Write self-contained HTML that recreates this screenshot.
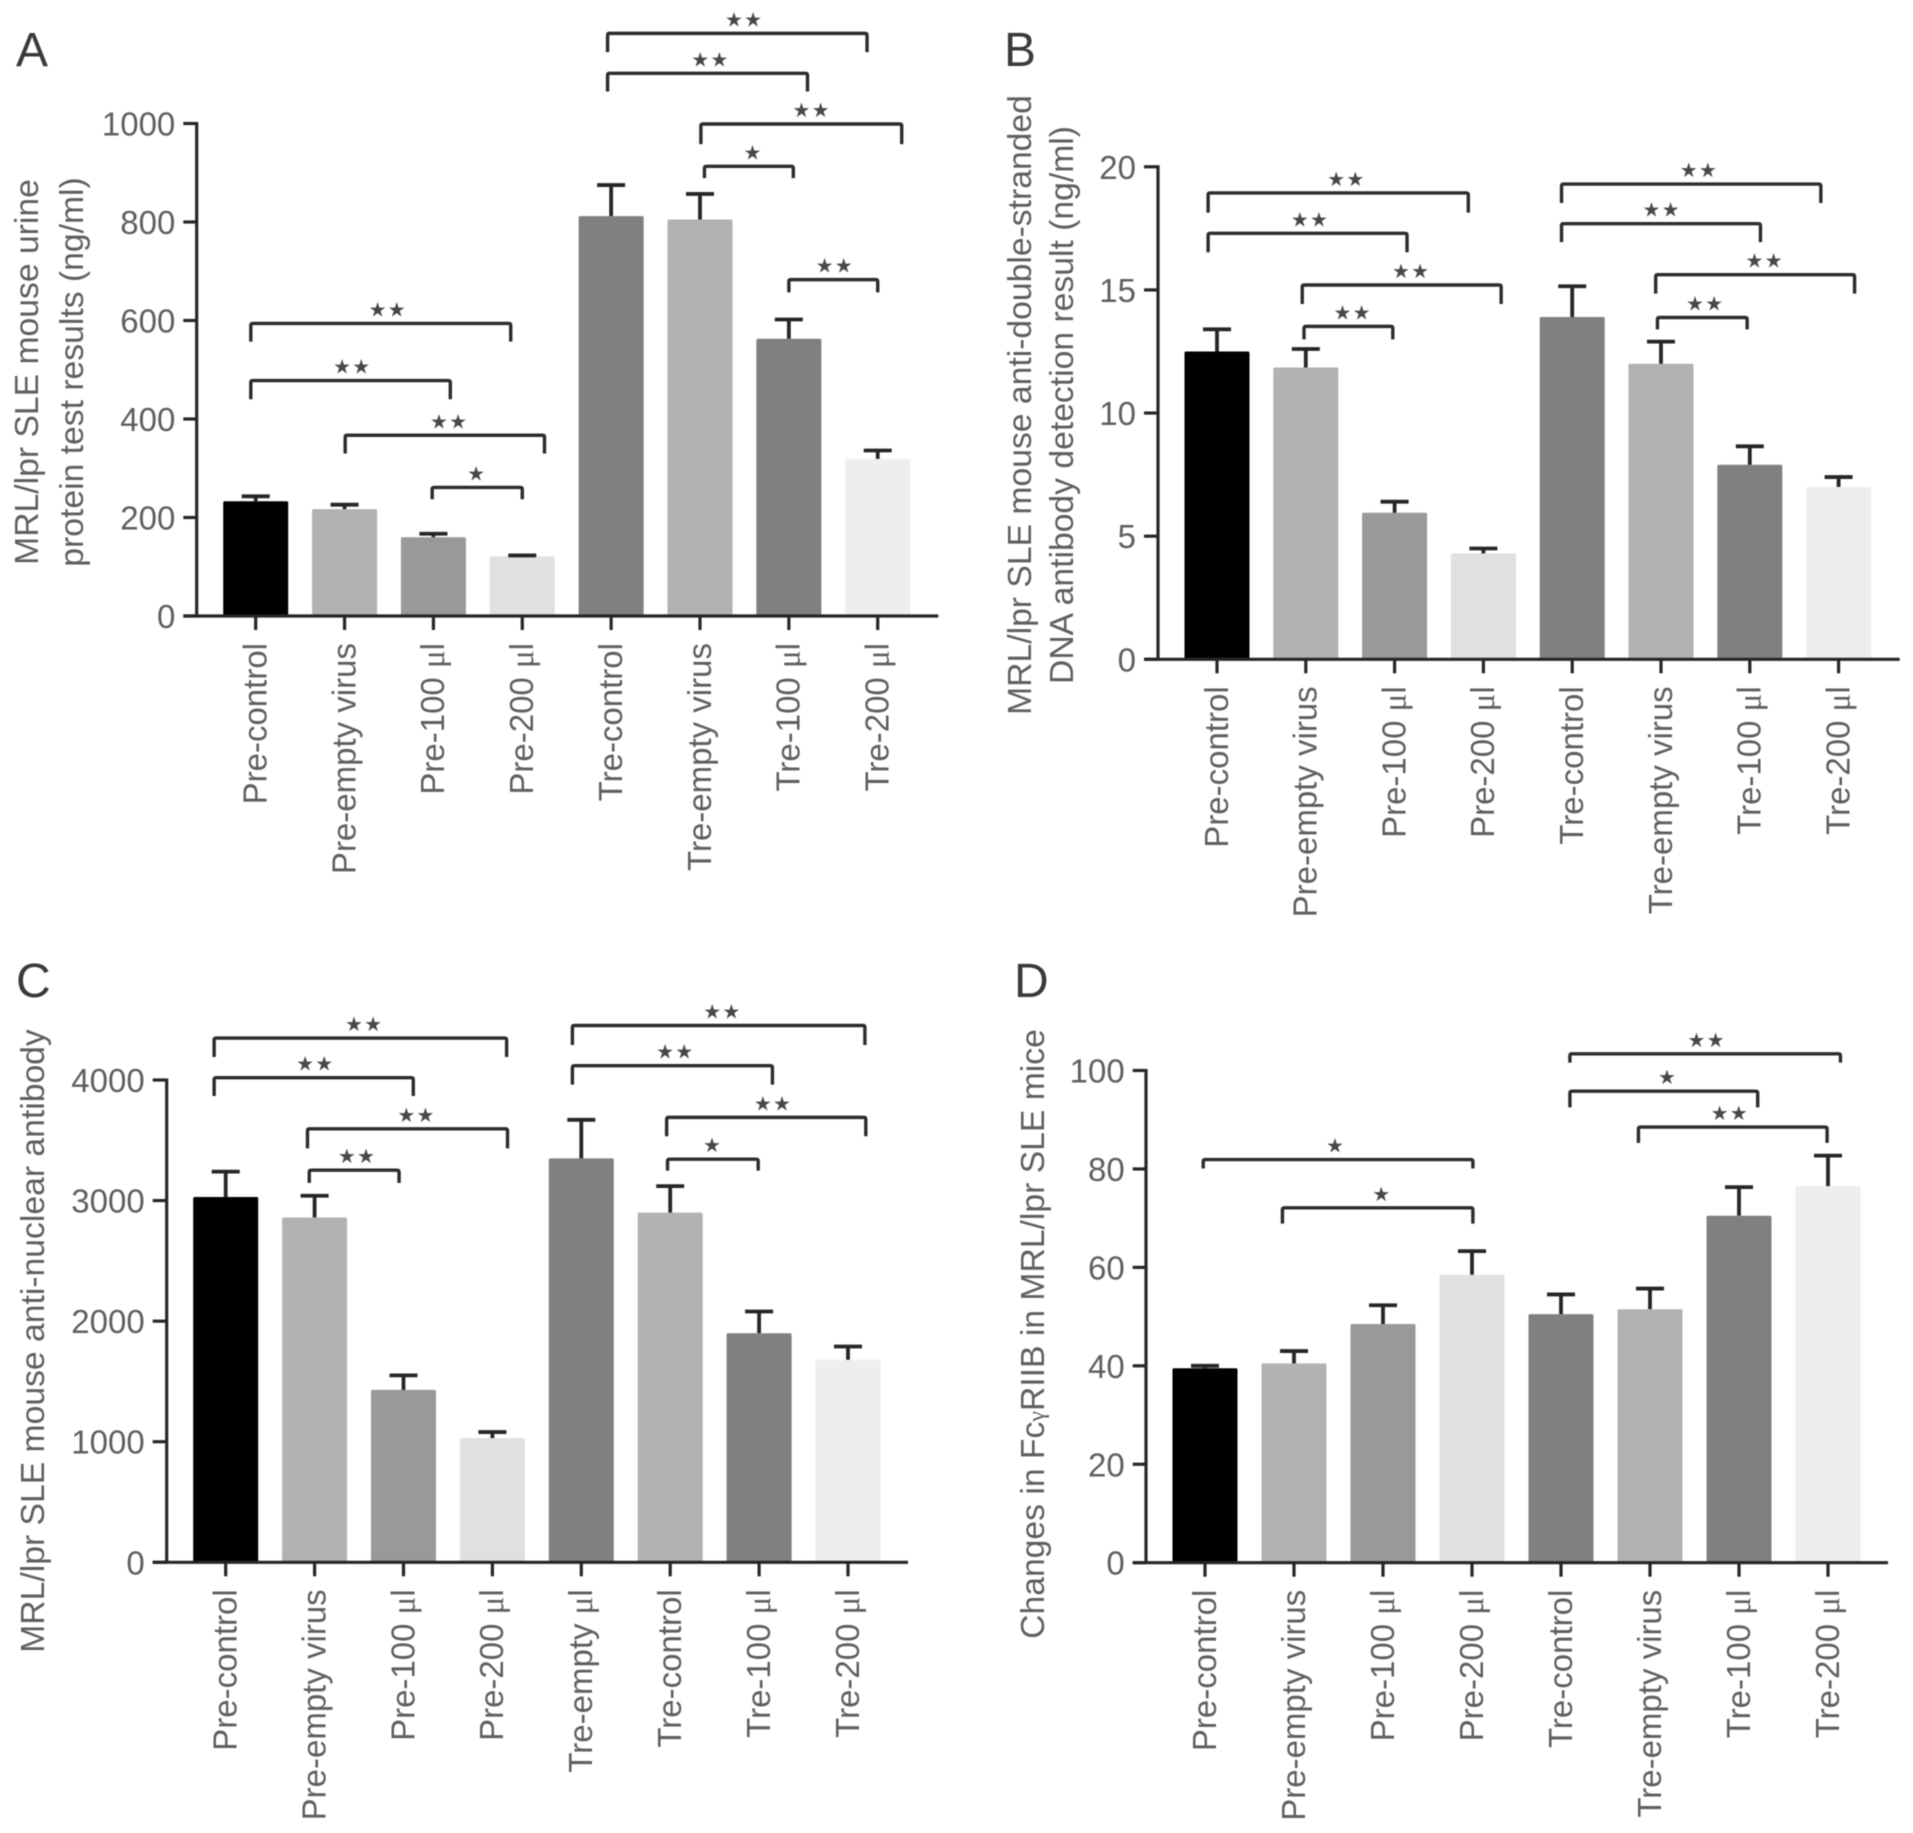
<!DOCTYPE html>
<html>
<head>
<meta charset="utf-8">
<title>MRL/lpr SLE mouse measurements</title>
<style>
html,body{margin:0;padding:0;background:#fff;width:1913px;height:1833px;overflow:hidden}
svg{display:block;filter:blur(0.6px)}
text{font-family:"Liberation Sans",sans-serif;fill:#5f5f5f}
.panel-letter{font-size:48px;fill:#3a3a3a}
.tick-label{font-size:33px}
.cat-label{font-size:33px}
.axis-title{font-size:33.7px;text-anchor:middle}
.sig{font-family:"DejaVu Sans",sans-serif;font-size:20px;letter-spacing:1.2px;fill:#484848;text-anchor:middle}
</style>
</head>
<body>
<svg id="figure" xmlns="http://www.w3.org/2000/svg" width="1913" height="1833" viewBox="0 0 1913 1833">
  <rect width="1913" height="1833" fill="#fff"/>
  <g id="panel-a">
    <text class="panel-letter" x="16" y="66">A</text>
    <text class="axis-title" transform="translate(38 372) rotate(-90)">MRL/lpr SLE mouse urine</text>
    <text class="axis-title" transform="translate(83 372) rotate(-90)">protein test results (ng/ml)</text>
  </g>
  <g id="panel-b">
    <text class="panel-letter" x="1004" y="66">B</text>
    <text class="axis-title" transform="translate(1031 405) rotate(-90)">MRL/lpr SLE mouse anti-double-stranded</text>
    <text class="axis-title" transform="translate(1073 405) rotate(-90)">DNA antibody detection result (ng/ml)</text>
  </g>
  <g id="panel-c">
    <text class="panel-letter" x="16" y="997">C</text>
    <text class="axis-title" transform="translate(44 1341) rotate(-90)">MRL/lpr SLE mouse anti-nuclear antibody</text>
  </g>
  <g id="panel-d">
    <text class="panel-letter" x="1014" y="997">D</text>
    <text class="axis-title" transform="translate(1044 1334) rotate(-90)">Changes in Fc<tspan font-size="24" font-family="Liberation Serif">γ</tspan>RIIB in MRL/lpr SLE mice</text>
  </g>
</svg>
<script>
// Panel A data
const categoriesA = ['Pre-control','Pre-empty virus','Pre-100 μl','Pre-200 μl','Tre-control','Tre-empty virus','Tre-100 μl','Tre-200 μl'];
const valuesA = [233,217,160,121,812,805,563,319];
const errorTopsA = [243,226,167,123,875,857,602,336];
const ticksA = [0,200,400,600,800,1000];
// brackets: [from category, to category, height value, drop in value units, label, label category]
const bracketsA = [
  [-0.055,2.87,594,37,'★★',1.48],
  [-0.055,2.19,478,38,'★★',1.08],
  [1.007,3.25,367,37,'★★',2.17],
  [1.986,3.0,261,24,'★',2.48],
  [3.96,6.88,1183,38,'★★',5.49],
  [3.96,6.21,1102,37,'★★',5.11],
  [5.01,7.27,999,41,'★★',6.25],
  [5.05,6.05,913,24,'★',5.59],
  [6.0,7.0,683,26,'★★',6.51]
];

// Panel B data
const categoriesB = ['Pre-control','Pre-empty virus','Pre-100 μl','Pre-200 μl','Tre-control','Tre-empty virus','Tre-100 μl','Tre-200 μl'];
const valuesB = [12.5,11.85,5.95,4.3,13.9,12.0,7.9,7.0];
const errorTopsB = [13.4,12.6,6.4,4.5,15.15,12.9,8.65,7.4];
const ticksB = [0,5,10,15,20];
const bracketsB = [
  [-0.10,2.83,18.94,0.8,'★★',1.45],
  [-0.10,2.14,17.3,0.77,'★★',1.04],
  [0.96,3.2,15.2,0.77,'★★',2.18],
  [0.98,1.98,13.52,0.53,'★★',1.52],
  [3.88,6.8,19.3,0.77,'★★',5.42],
  [3.88,6.12,17.69,0.75,'★★',5.0],
  [4.94,7.18,15.62,0.77,'★★',6.16],
  [4.96,5.97,13.88,0.48,'★★',5.49]
];

// Panel C data
const categoriesC = ['Pre-control','Pre-empty virus','Pre-100 μl','Pre-200 μl','Tre-empty μl','Tre-control','Tre-100 μl','Tre-200 μl'];
const valuesC = [3030,2860,1430,1030,3350,2900,1900,1680];
const errorTopsC = [3240,3040,1550,1080,3670,3120,2080,1790];
const ticksC = [0,1000,2000,3000,4000];
const bracketsC = [
  [-0.13,3.16,4348,157,'★★',1.55],
  [-0.13,2.11,4019,152,'★★',1.0],
  [0.92,3.17,3595,162,'★★',2.14],
  [0.94,1.95,3252,105,'★★',1.47],
  [3.9,7.19,4452,162,'★★',5.58],
  [3.9,6.15,4119,157,'★★',5.05],
  [4.96,7.2,3690,157,'★★',6.15],
  [4.97,5.99,3343,95,'★',5.47]
];

// Panel D data
const categoriesD = ['Pre-control','Pre-empty virus','Pre-100 μl','Pre-200 μl','Tre-control','Tre-empty virus','Tre-100 μl','Tre-200 μl'];
const valuesD = [39.5,40.5,48.5,58.5,50.5,51.5,70.5,76.5];
const errorTopsD = [40,43,52.3,63.3,54.5,55.7,76.3,82.7];
const ticksD = [0,20,40,60,80,100];
const bracketsD = [
  [-0.02,3.01,81.9,1.8,'★',1.46],
  [0.87,3.01,72.1,3.2,'★',1.98],
  [4.1,7.14,103.4,1.8,'★★',5.63],
  [4.1,6.21,95.8,3.3,'★',5.19],
  [4.87,6.99,88.5,3.2,'★★',5.89]
];

const barColorsABD = ['#000000','#b2b2b2','#999999','#e0e0e0','#808080','#b2b2b2','#808080','#eeeeee'];
const SVGNS = 'http://www.w3.org/2000/svg';

function make(tag, attrs, parent) {
  const node = document.createElementNS(SVGNS, tag);
  for (const k in attrs) node.setAttribute(k, attrs[k]);
  parent.appendChild(node);
  return node;
}

function drawPanel(id, frame, categories, values, errorTops, ticks, brackets) {
  const host = document.getElementById('panel-' + id);
  const maxTick = ticks[ticks.length - 1];
  const yScale = v => frame.y0 - (v / maxTick) * (frame.y0 - frame.yTop);
  const xScale = c => frame.cx0 + c * frame.step;
  const ink = '#262626';

  categories.forEach((cat, i) => {
    const cx = xScale(i);
    const bar = make('rect', {x: cx - 32.5, y: yScale(values[i]), width: 65, height: frame.y0 - yScale(values[i]), fill: barColorsABD[i], rx: 1.5}, host);
    
    

    const stem = make('line', {x1: cx, x2: cx, y1: yScale(values[i]), y2: yScale(errorTops[i]), stroke: ink, 'stroke-width': 3.8}, host);
    
    

    const cap = make('line', {x1: cx - 14, x2: cx + 14, y1: yScale(errorTops[i]), y2: yScale(errorTops[i]), stroke: ink, 'stroke-width': 3.8}, host);
    
    

    const tick = make('line', {x1: cx, x2: cx, y1: frame.y0, y2: frame.y0 + 14, stroke: ink, 'stroke-width': 3.2}, host);
    
    

    const label = make('text', {'class': 'cat-label', 'text-anchor': 'end', transform: 'translate(' + (cx + 10.8) + ' ' + (frame.y0 + 27) + ') rotate(-90)'}, host);
    
    
    const parts = cat.split('μ');
    label.appendChild(document.createTextNode(parts[0]));
    if (parts.length > 1) {
      const mu = make('tspan', {'font-family': '"Liberation Serif",serif'}, label);
      mu.textContent = 'μ';
      label.appendChild(document.createTextNode(parts[1]));
    }
  });

  const yAxis = make('line', {x1: frame.axisX, x2: frame.axisX, y1: frame.yTop - 1.5, y2: frame.y0, stroke: ink, 'stroke-width': 3.2}, host);
  
  

  const xAxis = make('line', {x1: frame.axisLeft, x2: frame.axisRight, y1: frame.y0, y2: frame.y0, stroke: ink, 'stroke-width': 3.2}, host);
  
  

  ticks.forEach(t => {
    const y = yScale(t);
    const mark = make('line', {x1: frame.axisLeft, x2: frame.axisX, y1: y, y2: y, stroke: ink, 'stroke-width': 3.2}, host);
    
    

    const tl = make('text', {'class': 'tick-label', 'text-anchor': 'end', x: frame.axisLeft - 8, y: y + 12}, host);
    
    
    tl.textContent = String(t);
  });

  brackets.forEach((b, i) => {
    const xa = xScale(b[0]), xb = xScale(b[1]), yt = yScale(b[2]), yd = yScale(b[2] - b[3]);
    const path = make('path', {d: 'M' + xa + ' ' + yd + 'V' + (yt + 2) + 'Q' + xa + ' ' + yt + ' ' + (xa + 2) + ' ' + yt + 'H' + (xb - 2) + 'Q' + xb + ' ' + yt + ' ' + xb + ' ' + (yt + 2) + 'V' + yd, fill: 'none', stroke: '#2c2c2c', 'stroke-width': 3.4}, host);
    
    

    const sig = make('text', {'class': 'sig', x: xScale(b[5]) + 0.6, y: yt - 7}, host);
    
    
    sig.textContent = b[4];
  });
}

drawPanel('a', {y0: 616, yTop: 123.5, axisX: 196.7, axisLeft: 183.3, axisRight: 938.3, cx0: 255.7, step: 88.86}, categoriesA, valuesA, errorTopsA, ticksA, bracketsA);
drawPanel('b', {y0: 659.3, yTop: 166.8, axisX: 1158, axisLeft: 1144, axisRight: 1899.7, cx0: 1217, step: 88.8}, categoriesB, valuesB, errorTopsB, ticksB, bracketsB);
drawPanel('c', {y0: 1562.3, yTop: 1080, axisX: 166.7, axisLeft: 152.7, axisRight: 908, cx0: 225.7, step: 88.9}, categoriesC, valuesC, errorTopsC, ticksC, bracketsC);
drawPanel('d', {y0: 1562.7, yTop: 1070.5, axisX: 1146, axisLeft: 1132.7, axisRight: 1888, cx0: 1205, step: 89}, categoriesD, valuesD, errorTopsD, ticksD, bracketsD);
</script>
</body>
</html>
